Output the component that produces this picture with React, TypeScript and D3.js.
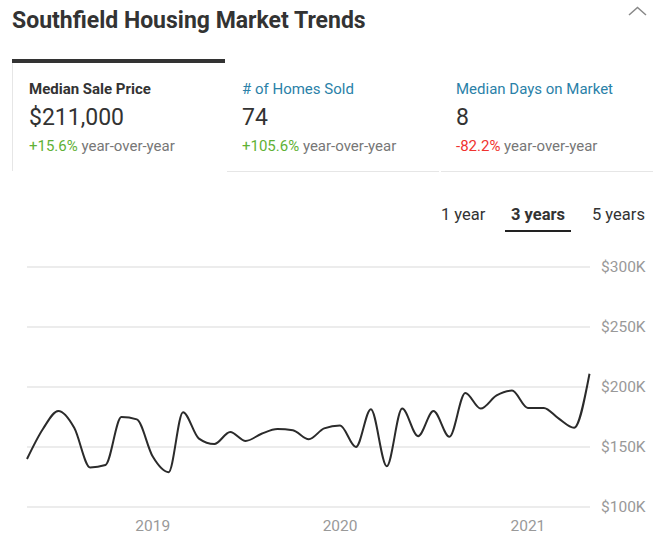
import React, { useEffect, useRef } from 'react';
import * as d3 from 'd3';

const months = [
  '2018-05', '2018-06', '2018-07', '2018-08', '2018-09', '2018-10', '2018-11', '2018-12',
  '2019-01', '2019-02', '2019-03', '2019-04', '2019-05', '2019-06', '2019-07', '2019-08',
  '2019-09', '2019-10', '2019-11', '2019-12', '2020-01', '2020-02', '2020-03', '2020-04',
  '2020-05', '2020-06', '2020-07', '2020-08', '2020-09', '2020-10', '2020-11', '2020-12',
  '2021-01', '2021-02', '2021-03', '2021-04', '2021-05',
];

// median sale price, in thousands
const prices = [
  140, 165, 180, 166, 133, 135, 175, 173, 142, 129, 179, 157,
  152.5, 162.5, 155, 161, 165, 164, 156.5, 165.5, 168, 150, 181.5, 134,
  182, 159, 180, 158.5, 195, 182, 193, 197, 182.5, 182.5, 174, 166, 211,
];

const yTicks = [100, 150, 200, 250, 300];
const xTicks = ['2019-01', '2020-01', '2021-01'];

const tabs = [
  { label: 'Median Sale Price', value: '$211,000', change: '+15.6%', up: true },
  { label: '# of Homes Sold', value: '74', change: '+105.6%', up: true },
  { label: 'Median Days on Market', value: '8', change: '-82.2%', up: false },
];

const ranges = ['1 year', '3 years', '5 years'];

const FONT = 'Roboto, "Open Sans", sans-serif';

const App: React.FC = () => {
  const svgRef = useRef<SVGSVGElement>(null);

  useEffect(() => {
    if (!svgRef.current) return;
    const svg = d3.select(svgRef.current);
    svg.selectAll('*').remove();
    svg.style('font-family', FONT);

    // header
    svg.append('text')
      .attr('x', 12).attr('y', 28)
      .style('font-size', '23px').style('font-weight', 'bold').style('fill', '#333')
      .text('Southfield Housing Market Trends');

    svg.append('polyline')
      .attr('points', '629,15 637.5,7.5 646,15')
      .attr('fill', 'none').attr('stroke', '#888').attr('stroke-width', 1.5);

    // stat tabs
    const tabW = 212;
    tabs.forEach((t, i) => {
      const x0 = 12 + i * 214;
      const g = svg.append('g');
      if (i === 0) {
        g.append('rect').attr('x', x0).attr('y', 59).attr('width', tabW + 1).attr('height', 4).attr('fill', '#333');
        g.append('line').attr('x1', x0 + 0.5).attr('x2', x0 + 0.5).attr('y1', 63).attr('y2', 171)
          .attr('stroke', '#e6e6e6');
      } else {
        g.append('line').attr('x1', x0 + 1).attr('x2', x0 + tabW + 1).attr('y1', 171.5).attr('y2', 171.5)
          .attr('stroke', '#e6e6e6');
      }
      const tx = x0 + 17 - (i > 0 ? 1 : 0);
      g.append('text').attr('x', tx).attr('y', 94)
        .style('font-size', '15px')
        .style('font-weight', i === 0 ? 'bold' : 'normal')
        .style('fill', i === 0 ? '#333' : '#2a81a8')
        .text(t.label);
      g.append('text').attr('x', tx).attr('y', 125)
        .style('font-size', '23px').style('fill', '#333')
        .text(t.value);
      const ch = g.append('text').attr('x', tx).attr('y', 151).style('font-size', '15px');
      ch.append('tspan').style('fill', t.up ? '#5fb135' : '#f0332f').text(t.change);
      ch.append('tspan').style('fill', '#777').text(' year-over-year');
    });

    // range selector
    const rangeX = [441, 511, 592];
    ranges.forEach((r, i) => {
      svg.append('text').attr('x', rangeX[i]).attr('y', 220)
        .style('font-size', '16.5px')
        .style('font-weight', i === 1 ? 'bold' : 'normal')
        .style('fill', '#333')
        .text(r);
    });
    svg.append('rect').attr('x', 505).attr('y', 230).attr('width', 66).attr('height', 2).attr('fill', '#222');

    // chart
    const parse = d3.timeParse('%Y-%m');
    const dates = months.map((m) => parse(m) as Date);
    const x = d3.scaleTime()
      .domain([dates[0], dates[dates.length - 1]])
      .range([27, 589.5]);
    const y = d3.scaleLinear().domain([100, 300]).range([507, 267]);

    const grid = svg.append('g');
    yTicks.forEach((v) => {
      grid.append('line')
        .attr('x1', 27).attr('x2', 590)
        .attr('y1', y(v)).attr('y2', y(v))
        .attr('stroke', '#ececec').attr('stroke-width', 2);
      grid.append('text')
        .attr('x', 601).attr('y', y(v) + 5)
        .style('font-size', '15.5px').style('fill', '#999')
        .text(`$${v}K`);
    });

    xTicks.forEach((m) => {
      const d = parse(m) as Date;
      svg.append('text')
        .attr('x', x(d)).attr('y', 531)
        .attr('text-anchor', 'middle')
        .style('font-size', '15.5px').style('fill', '#999')
        .text(d3.timeFormat('%Y')(d));
    });

    const line = d3.line<number>()
      .x((_, i) => x(dates[i]))
      .y((v) => y(v))
      .curve(d3.curveMonotoneX);

    svg.append('path')
      .datum(prices)
      .attr('fill', 'none')
      .attr('stroke', '#2b2b2b')
      .attr('stroke-width', 2)
      .attr('d', line);
  }, []);

  return (
    <svg
      ref={svgRef}
      width={663}
      height={544}
      style={{ position: 'absolute', left: 0, top: 0, background: '#fff' }}
    />
  );
};

export default App;
